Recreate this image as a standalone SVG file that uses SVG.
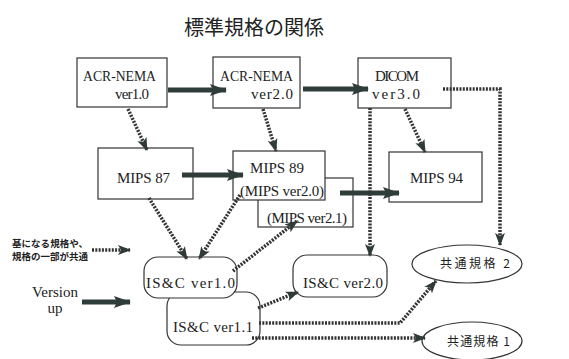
<svg xmlns="http://www.w3.org/2000/svg" width="569" height="359" viewBox="0 0 569 359">
<defs>
<marker id="ah" markerUnits="userSpaceOnUse" markerWidth="14" markerHeight="12" refX="12" refY="6" orient="auto">
<path d="M0,1 L13,6 L0,11 L3,6 Z" fill="#2e3b39"/>
</marker>
<marker id="ahb" markerUnits="userSpaceOnUse" markerWidth="18" markerHeight="14" refX="16" refY="7" orient="auto">
<path d="M0,1 L17,7 L0,13 L3,7 Z" fill="#2e3d3a"/>
</marker>
<style>
.box{fill:#fff;stroke:#333;stroke-width:1.2}
.t{font-family:'Liberation Serif','DejaVu Serif',serif;font-size:15px;fill:#222}
.j{font-family:'Noto Sans CJK JP',sans-serif;fill:#222}
.dot{fill:none;stroke:#333;stroke-width:3.5;stroke-dasharray:2 1.3;marker-end:url(#ah)}
.thick{fill:none;stroke:#2e3d3a;stroke-width:5;marker-end:url(#ahb)}
</style>
</defs>
<rect width="569" height="359" fill="#fff"/>
<text class="j" x="254" y="35" font-size="20" text-anchor="middle">標準規格の関係</text>

<g id="acr1"><rect class="box" x="77" y="58" width="90" height="49"/>
<text class="t" x="83" y="81" textLength="73" lengthAdjust="spacingAndGlyphs">ACR-NEMA</text>
<text class="t" x="115" y="99" textLength="34">ver1.0</text></g>
<g id="acr2"><rect class="box" x="213" y="57" width="87" height="51"/>
<text class="t" x="220" y="81" textLength="73" lengthAdjust="spacingAndGlyphs">ACR-NEMA</text>
<text class="t" x="251" y="99" textLength="42">ver2.0</text></g>
<g id="dicom"><rect class="box" x="358" y="58" width="93" height="50"/>
<text class="t" x="375" y="81" textLength="44">DICOM</text>
<text class="t" x="372" y="99" textLength="48">ver3.0</text></g>

<g id="mips87"><rect class="box" x="98" y="148" width="95" height="51"/>
<text class="t" x="117" y="183" textLength="53">MIPS 87</text></g>
<g id="mips21"><rect class="box" x="258" y="178" width="95" height="49"/>
<text class="t" x="267" y="223" textLength="80">(MIPS ver2.1)</text></g>
<g id="mips89"><rect class="box" x="233" y="151" width="92" height="49"/>
<text class="t" x="250" y="173" textLength="54">MIPS 89</text>
<text class="t" x="240" y="196" textLength="84">(MIPS ver2.0)</text></g>
<g id="mips94"><rect class="box" x="389" y="152" width="93" height="50"/>
<text class="t" x="410" y="183" textLength="53">MIPS 94</text></g>

<g id="isc11"><rect class="box" x="167" y="292" width="93" height="53" rx="14"/>
<text class="t" x="173" y="332" textLength="80">IS&amp;C ver1.1</text></g>
<g id="isc10"><rect class="box" x="144" y="257" width="93" height="41" rx="14"/>
<text class="t" x="146" y="288" textLength="89">IS&amp;C ver1.0</text></g>
<g id="isc20"><rect class="box" x="293" y="255" width="94" height="42" rx="14"/>
<text class="t" x="303" y="288" textLength="80">IS&amp;C ver2.0</text></g>

<g id="common2"><ellipse class="box" cx="467" cy="264" rx="55" ry="19"/>
<text class="j" x="440" y="268" font-size="12" textLength="70">共通規格 2</text></g>
<g id="common1"><ellipse class="box" cx="472" cy="341" rx="50" ry="19"/>
<text class="j" x="447" y="346" font-size="12" textLength="63">共通規格 1</text></g>

<g id="legend">
<text class="j" x="12" y="247" font-size="9.5" font-weight="bold" textLength="76">基になる規格や、</text>
<text class="j" x="12" y="260" font-size="9.5" font-weight="bold" textLength="76">規格の一部が共通</text>
<text class="t" x="55" y="297" font-size="10.5" text-anchor="middle">Version</text>
<text class="t" x="55" y="313" font-size="10.5" text-anchor="middle">up</text>
</g>

<g id="connectors">
<path class="thick" d="M168 90 L226 90"/>
<path class="thick" d="M303 89 L368 89"/>
<path class="thick" d="M182 175 L243 175"/>
<path class="thick" d="M340 193 L399 193"/>
<path class="thick" d="M82 302 L130 302"/>
<path class="dot" d="M128 109 L147 150"/>
<path class="dot" d="M263 109 L276 151"/>
<path class="dot" d="M405 109 L425 152"/>
<path class="dot" d="M370 108 L370 256"/>
<path class="dot" d="M443 89 L500 89 L500 245"/>
<path class="dot" d="M149 198 L187 259"/>
<path class="dot" d="M240 195 L199 259"/>
<path class="dot" d="M233 271 L297 221"/>
<path class="dot" d="M258 308 L298 292"/>
<path class="dot" d="M259 323 L400 323 L436 281"/>
<path class="dot" d="M252 338 L425 338"/>
<path class="dot" d="M92 250 L130 250"/>
</g>
</svg>
